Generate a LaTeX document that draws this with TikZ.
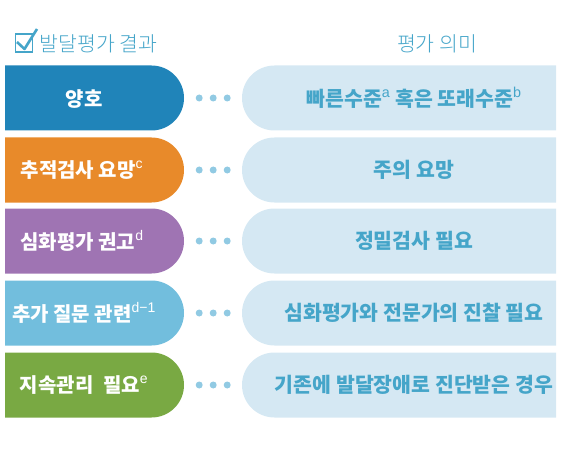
\documentclass[tikz,border=0pt]{standalone}
\usepackage{fontspec}
\setmainfont{Noto Sans CJK KR}
\newfontfamily\supfont{Liberation Sans}
\newfontfamily\lightkr{Noto Sans CJK KR Light}
\usetikzlibrary{shapes.misc,calc}

\definecolor{gradeblue}{HTML}{2084B9}
\definecolor{gradeorange}{HTML}{E88A2A}
\definecolor{gradepurple}{HTML}{9F74B3}
\definecolor{gradesky}{HTML}{72BEDD}
\definecolor{gradegreen}{HTML}{79A943}
\definecolor{meanfill}{HTML}{D5E8F3}
\definecolor{meantext}{HTML}{45A5C9}
\definecolor{dotblue}{HTML}{91CAE3}

\newcommand{\sups}[1]{\raisebox{1.5pt}{\textsuperscript{\supfont\mdseries #1}}}

\begin{document}
\begin{tikzpicture}
      [x=1pt,y=-1pt,
      result/.style={shape=rounded rectangle,rounded rectangle west arc=none,
        minimum width=179pt,minimum height=65pt,inner sep=0pt},
      meaning/.style={shape=rounded rectangle,rounded rectangle east arc=none,
        fill=meanfill,minimum width=314pt,minimum height=65pt,inner sep=0pt},
      resulttext/.style={text=white,font=\bfseries\fontsize{20}{24}\selectfont},
      meaningtext/.style={text=meantext,font=\bfseries\fontsize{20.5}{24}\selectfont},
      head/.style={text=meantext,font=\lightkr\fontsize{20.5}{24}\selectfont}]
\useasboundingbox (0,0) rectangle (564,465);
% headings
\draw[meantext,line width=1.4pt] (15.5,34) rectangle (32.5,52);
\draw[meantext,line width=2.6pt,line join=round] (17,42) -- (24.5,49) -- (37,29);
\node[head,anchor=west] (resulthead) at (36,44) {발달평가 결과};
\node[head] (meaninghead) at (437,44) {평가 의미};
% result boxes
\node[result,fill=gradeblue] (good) at (94.5,98) {};
\node[result,fill=gradeorange] (follow) at (94.5,170) {};
\node[result,fill=gradepurple] (deep) at (94.5,241) {};
\node[result,fill=gradesky] (extra) at (94.5,313) {};
\node[result,fill=gradegreen] (care) at (94.5,385) {};
\node[resulttext] (goodtext) at (84,99) {양호};
\node[resulttext] (followtext) at (82,170) {추적검사 요망\sups{c}};
\node[resulttext] (deeptext) at (82,241) {심화평가 권고\sups{d}};
\node[resulttext] (extratext) at (84,313) {추가 질문 관련\sups{d−1}};
\node[resulttext] (caretext) at (84,385) {지속관리\hspace{5pt} 필요\sups{e}};
% meaning boxes
\node[meaning] (goodmean) at (399,98) {};
\node[meaning] (followmean) at (399,170) {};
\node[meaning] (deepmean) at (399,241) {};
\node[meaning] (extramean) at (399,313) {};
\node[meaning] (caremean) at (399,385) {};
\node[meaningtext] (goodmeantext) at (414,98) {빠른수준\sups{a} 혹은 또래수준\sups{b}};
\node[meaningtext] (followmeantext) at (414,170) {주의 요망};
\node[meaningtext] (deepmeantext) at (414,241) {정밀검사 필요};
\node[meaningtext] (extrameantext) at (414,313) {심화평가와 전문가의 진찰 필요};
\node[meaningtext] (caremeantext) at (414,385) {기존에 발달장애로 진단받은 경우};
% dots
\foreach \row in {good,follow,deep,extra,care}
  \foreach \k in {1,2,3}
    \fill[dotblue] ($(\row.east)+(1+\k*14,0)$) circle (3.5);
\end{tikzpicture}
\end{document}
